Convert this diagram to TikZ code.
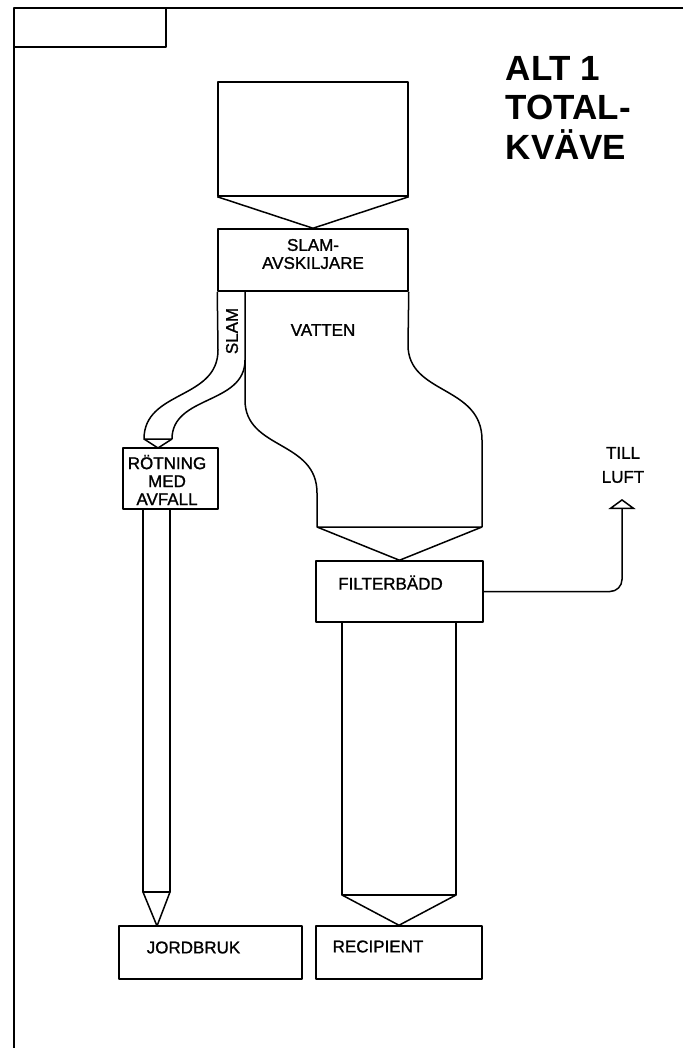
\documentclass[tikz,border=0pt]{standalone}
\usepackage{fontspec}
\setmainfont{Liberation Sans}
\newfontfamily\lblfont[FakeBold=1.2]{Liberation Sans}
\usetikzlibrary{arrows.meta}

\begin{document}
\begin{tikzpicture}[x=1pt, y=-1pt,
				line width=1.5pt, line join=round,
				box/.style={draw, rectangle, inner sep=0pt},
				lbl/.style={font=\lblfont\fontsize{17}{18}\selectfont, align=center, inner sep=0pt},
				luftpil/.style={-{Triangle[open, width=27pt, length=10pt]}, rounded corners=12pt}]
				%Bildbereich
				\useasboundingbox (0,0) rectangle (683,1048);
				% Rahmen
				\draw (683,8) -- (14,8) -- (14,1048);
				\draw (14,47) -- (166,47) -- (166,8);
				% Titel
				\node[anchor=north west, inner sep=0pt, align=left, font=\fontsize{35}{39.5}\selectfont\bfseries] (titel) at (505,55.5) {ALT 1\\TOTAL-\\KV\"AVE};
				% Kaesten
				\node[box, minimum width=190, minimum height=114] (tank) at (313,139) {};
				\node[box, minimum width=190, minimum height=62] (avsk) at (313,260) {};
				\node[box, minimum width=95, minimum height=61] (rotning) at (170.5,478.5) {};
				\node[box, minimum width=167, minimum height=61] (filter) at (399.5,591.5) {};
				\node[box, minimum width=183, minimum height=53] (jord) at (210.5,952.5) {};
				\node[box, minimum width=166, minimum height=53] (recip) at (399,952.5) {};
				% Beschriftung
				\node[lbl] (avsktxt) at ([yshift=6pt]avsk.center) {SLAM-\\AVSKILJARE};
				\node[lbl, rotate=90] (slamtxt) at (232,331) {SLAM};
				\node[lbl] (vattentxt) at (323,330) {VATTEN};
				\node[lbl] (rotningtxt) at (167,480) {R\"OTNING\\MED\\AVFALL};
				\node[lbl] (filtertxt) at ([shift={(-9,-9)}]filter.center) {FILTERB\"ADD};
				\node[lbl] (jordtxt) at ([shift={(-17,-5)}]jord.center) {JORDBRUK};
				\node[lbl] (reciptxt) at ([shift={(-21,-6)}]recip.center) {RECIPIENT};
				\node[lbl, font=\lblfont\fontsize{17}{24}\selectfont] (lufttxt) at (623,465) {TILL\\LUFT};
				% Tank -> Slamavskiljare
				\draw (tank.south west) -- (avsk.north) -- (tank.south east);
				% Slam -> Roetning
				\coordinate (slamin) at (158,448);
				\draw (avsk.south west) -- (218,350) .. controls (218,400) and (144,390) .. (144,439) -- (172,439);
				\draw (245,291) -- (245,360) .. controls (245,405) and (172,395) .. (172,439);
				\draw (144,439) -- (slamin) -- (172,439);
				% Vatten -> Filterbaedd
				\draw (245,360) -- (245,400) .. controls (245,450) and (317,440) .. (317,493) -- (317,527) -- (482,527);
				\draw (avsk.south east) -- (408,345) .. controls (408,395) and (482,385) .. (482,440) -- (482,527);
				\draw (317,527) -- (filter.north) -- (482,527);
				% Roetning -> Jordbruk
				\coordinate (jordin) at (157,926);
				\draw (143,509) -- (143,892) -- (170,892) -- (170,509);
				\draw (143,892) -- (jordin) -- (170,892);
				% Filterbaedd -> Recipient
				\draw (342,622) -- (342,895) -- (456,895) -- (456,622);
				\draw (342,895) -- (recip.north) -- (456,895);
				% Filterbaedd -> Luft
				\coordinate (luft) at (622,499);
				\draw[luftpil] (filter.east) -| (luft);
			\end{tikzpicture}
\end{document}
